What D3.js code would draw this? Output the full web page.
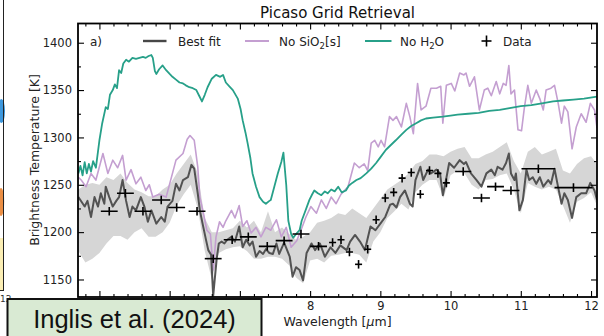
<!DOCTYPE html>
<html>
<head>
<meta charset="utf-8">
<script src="https://cdn.jsdelivr.net/npm/d3@7"></script>
<style>
html, body { margin: 0; padding: 0; background: #fff; }
svg { display: block; }
</style>
</head>
<body>
<svg id="chart" width="604" height="336"></svg>
<script>
// ---- Axis limits and ticks ----
const xLimits = [4.695, 12.085];
const yLimits = [1131.5, 1420.3];
const xMajorTicks = [5, 6, 7, 8, 9, 10, 11, 12];
// labels for 5-7 sit under the citation box, so they are left blank
const xTickLabels = ["", "", "", "8", "9", "10", "11", "12"];
const yMajorTicks = [1150, 1200, 1250, 1300, 1350, 1400];
const yMinorTicks = [1175, 1225, 1275, 1325, 1375];

// ---- Best-fit spectrum (wavelength in µm, brightness temperature in K) ----
const fitX = [
  4.70, 4.79, 4.83, 4.88, 4.93, 4.98, 5.02, 5.07, 5.09, 5.14,
  5.19, 5.24, 5.28, 5.33, 5.38, 5.43, 5.47, 5.52, 5.59, 5.64,
  5.69, 5.74, 5.81, 5.88, 5.93, 5.97, 6.04, 6.09, 6.14, 6.19,
  6.26, 6.31, 6.35, 6.40, 6.43, 6.48, 6.52, 6.55, 6.59, 6.62,
  6.67, 6.70, 6.74, 6.78, 6.82, 6.88, 6.93, 6.99, 7.04, 7.09,
  7.14, 7.18, 7.23, 7.28, 7.33, 7.37, 7.42, 7.47, 7.52, 7.56,
  7.63, 7.71, 7.75, 7.80, 7.85, 7.90, 7.95, 8.02, 8.07, 8.14,
  8.21, 8.29, 8.36, 8.43, 8.52, 8.57, 8.64, 8.71, 8.78, 8.86,
  8.93, 9.00, 9.07, 9.14, 9.18, 9.23, 9.28, 9.35, 9.42, 9.46,
  9.50, 9.57, 9.61, 9.68, 9.72, 9.80, 9.85, 9.89, 9.94, 9.98,
  10.05, 10.13, 10.19, 10.22, 10.29, 10.37, 10.44, 10.51, 10.58, 10.63,
  10.67, 10.74, 10.79, 10.83, 10.86, 10.91, 10.93, 10.98, 11.03, 11.08,
  11.12, 11.17, 11.22, 11.27, 11.32, 11.39, 11.43, 11.48, 11.53, 11.58,
  11.62, 11.67, 11.73, 11.79, 11.86, 11.93, 11.99, 12.05, 12.085
];
const fitT = [
  1237, 1227, 1233, 1216, 1237, 1227, 1241, 1230, 1248, 1237,
  1227, 1233, 1237, 1255, 1233, 1216, 1227, 1223, 1237, 1227,
  1211, 1223, 1209, 1216, 1211, 1227, 1233, 1251, 1244, 1255,
  1258, 1271, 1267, 1241, 1223, 1205, 1191, 1181, 1176, 1133,
  1172, 1188, 1190, 1188, 1192, 1195, 1190, 1206, 1184, 1192,
  1186, 1190, 1174, 1180, 1177, 1182, 1178, 1177, 1188, 1177,
  1189, 1174, 1153, 1163, 1160, 1149, 1178, 1188, 1181, 1188,
  1174, 1184, 1178, 1186, 1181, 1190, 1197, 1190, 1181, 1206,
  1202, 1209, 1216, 1229, 1230, 1226, 1237, 1244, 1230, 1227,
  1255, 1269, 1255, 1266, 1262, 1266, 1262, 1239, 1257, 1273,
  1268, 1276, 1272, 1274, 1262, 1255, 1248, 1262, 1266, 1260,
  1269, 1266, 1273, 1283, 1262, 1255, 1262, 1223, 1234, 1266,
  1255, 1258, 1251, 1258, 1248, 1255, 1251, 1267, 1248, 1230,
  1241, 1234, 1215, 1237, 1241, 1241, 1252, 1244, 1234
];

// ---- Best-fit uncertainty envelope ----
const bandX = [
  4.70, 4.80, 4.90, 5.00, 5.10, 5.20, 5.30, 5.40, 5.50, 5.60,
  5.70, 5.80, 5.90, 6.00, 6.10, 6.20, 6.30, 6.40, 6.50, 6.60,
  6.70, 6.80, 6.90, 7.00, 7.10, 7.20, 7.30, 7.40, 7.50, 7.60,
  7.70, 7.80, 7.90, 8.00, 8.10, 8.20, 8.30, 8.40, 8.50, 8.60,
  8.70, 8.80, 8.90, 9.00, 9.10, 9.20, 9.30, 9.40, 9.50, 9.60,
  9.70, 9.80, 9.90, 10.00, 10.10, 10.20, 10.30, 10.40, 10.50, 10.60,
  10.70, 10.80, 10.90, 11.00, 11.10, 11.20, 11.30, 11.40, 11.50, 11.60,
  11.70, 11.80, 11.90, 12.00, 12.085
];
const bandLow = [
  1180, 1168, 1172, 1178, 1188, 1196, 1196, 1192, 1200, 1204,
  1195, 1195, 1200, 1210, 1228, 1240, 1250, 1225, 1180, 1150,
  1178, 1182, 1184, 1185, 1180, 1172, 1172, 1174, 1174, 1172,
  1165, 1152, 1146, 1170, 1172, 1168, 1175, 1176, 1178, 1178,
  1176, 1168, 1190, 1200, 1215, 1222, 1230, 1224, 1242, 1250,
  1255, 1255, 1236, 1260, 1265, 1262, 1250, 1245, 1255, 1256,
  1260, 1262, 1245, 1220, 1252, 1248, 1245, 1248, 1245, 1228,
  1210, 1232, 1236, 1242, 1228
];
const bandHigh = [
  1245, 1250, 1252, 1250, 1258, 1255, 1262, 1252, 1245, 1242,
  1238, 1238, 1245, 1250, 1262, 1272, 1282, 1262, 1215, 1200,
  1200, 1202, 1204, 1212, 1205, 1212, 1200, 1222, 1200, 1205,
  1198, 1192, 1195, 1200, 1210, 1212, 1215, 1220, 1218, 1225,
  1220, 1215, 1225, 1235, 1245, 1250, 1255, 1262, 1272, 1275,
  1282, 1282, 1280, 1285, 1288, 1290, 1278, 1278, 1282, 1285,
  1290, 1295, 1275, 1262, 1285, 1290, 1282, 1285, 1288, 1265,
  1262, 1272, 1278, 1280, 1272
];

// ---- Model without SiO2 clouds ----
const noSio2X = [
  4.70, 4.74, 4.81, 4.88, 4.95, 5.05, 5.12, 5.19, 5.26, 5.33,
  5.38, 5.45, 5.52, 5.59, 5.66, 5.71, 5.76, 5.85, 5.95, 6.04,
  6.09, 6.19, 6.25, 6.29, 6.35, 6.40, 6.43, 6.48, 6.53, 6.58,
  6.62, 6.66, 6.71, 6.76, 6.80, 6.88, 6.93, 6.99, 7.04, 7.10,
  7.16, 7.23, 7.30, 7.37, 7.44, 7.52, 7.59, 7.66, 7.73, 7.81,
  7.87, 7.94, 8.01, 8.09, 8.16, 8.23, 8.30, 8.37, 8.44, 8.54,
  8.63, 8.70, 8.77, 8.82, 8.87, 8.92, 8.97, 9.01, 9.06, 9.13,
  9.18, 9.23, 9.30, 9.37, 9.42, 9.47, 9.53, 9.58, 9.65, 9.72,
  9.80, 9.86, 9.89, 9.94, 10.01, 10.06, 10.13, 10.19, 10.22, 10.27,
  10.34, 10.41, 10.48, 10.53, 10.58, 10.65, 10.70, 10.75, 10.79, 10.83,
  10.86, 10.91, 10.96, 11.01, 11.05, 11.10, 11.15, 11.22, 11.27, 11.32,
  11.36, 11.43, 11.48, 11.53, 11.58, 11.62, 11.67, 11.73, 11.79, 11.86,
  11.93, 11.99, 12.05, 12.085
];
const noSio2T = [
  1258, 1255, 1248, 1262, 1255, 1283, 1262, 1276, 1268, 1281,
  1255, 1266, 1251, 1258, 1244, 1250, 1237, 1240, 1237, 1262,
  1276, 1283, 1298, 1302, 1297, 1269, 1237, 1220, 1202, 1198,
  1160, 1195, 1211, 1205, 1212, 1223, 1215, 1228, 1206, 1212,
  1199, 1205, 1195, 1205, 1202, 1213, 1195, 1205, 1184, 1191,
  1202, 1216, 1227, 1220, 1234, 1225, 1237, 1230, 1240, 1248,
  1273, 1268, 1272, 1265, 1294, 1297, 1290, 1297, 1290, 1322,
  1318, 1322, 1311, 1336, 1322, 1304, 1357, 1329, 1333, 1352,
  1352, 1354, 1315, 1355, 1357, 1349, 1368, 1366, 1368, 1354,
  1364, 1329, 1350, 1352, 1344, 1359, 1346, 1357, 1355, 1376,
  1346, 1350, 1308, 1307, 1331, 1355, 1336, 1350, 1341, 1329,
  1350, 1352, 1355, 1337, 1315, 1333, 1327, 1288, 1311, 1325,
  1316, 1336, 1329, 1310
];

// ---- Model without H2O ----
const noH2oX = [
  4.70, 4.73, 4.76, 4.79, 4.82, 4.85, 4.88, 4.91, 4.95, 5.00,
  5.04, 5.09, 5.12, 5.15, 5.19, 5.22, 5.25, 5.28, 5.31, 5.34,
  5.38, 5.42, 5.47, 5.52, 5.57, 5.62, 5.66, 5.70, 5.74, 5.76,
  5.79, 5.81, 5.85, 5.90, 5.95, 6.00, 6.04, 6.09, 6.14, 6.19,
  6.23, 6.28, 6.33, 6.38, 6.42, 6.46, 6.50, 6.54, 6.60, 6.66,
  6.72, 6.76, 6.80, 6.85, 6.90, 6.97, 7.01, 7.04, 7.08, 7.11,
  7.15, 7.18, 7.23, 7.28, 7.33, 7.37, 7.42, 7.44, 7.49, 7.54,
  7.59, 7.62, 7.66, 7.69, 7.73, 7.76, 7.80, 7.85, 7.88, 7.92,
  7.96, 7.99, 8.03, 8.06, 8.11, 8.16, 8.21, 8.25, 8.30, 8.35,
  8.40, 8.45, 8.51, 8.55, 8.60, 8.66, 8.72, 8.80, 8.87, 8.94,
  9.01, 9.08, 9.15, 9.22, 9.30, 9.37, 9.44, 9.51, 9.58, 9.65,
  9.75, 9.89, 10.00, 10.10, 10.25, 10.40, 10.55, 10.70, 10.84, 11.00,
  11.15, 11.30, 11.46, 11.60, 11.75, 11.90, 12.085
];
const noH2oT = [
  1262, 1270, 1260, 1274, 1262, 1272, 1264, 1275, 1268, 1297,
  1315, 1332, 1330, 1345, 1350, 1356, 1352, 1371, 1368, 1378,
  1382, 1380, 1384, 1383, 1384, 1385, 1384, 1386, 1387, 1384,
  1370, 1367, 1372, 1376, 1371, 1367, 1364, 1361, 1358, 1357,
  1355, 1353, 1352, 1350, 1344, 1338, 1345, 1353, 1362, 1366,
  1364, 1366, 1358, 1354, 1350, 1341, 1330, 1318, 1305, 1294,
  1278, 1262, 1248, 1237, 1232, 1230, 1233, 1234, 1248, 1262,
  1274, 1284, 1250, 1212, 1198, 1194, 1198, 1202, 1212, 1220,
  1228, 1234, 1240, 1244, 1241, 1239, 1243, 1241, 1245, 1243,
  1248, 1242, 1244, 1249, 1252, 1255, 1257, 1262, 1267, 1273,
  1280, 1287, 1292, 1297, 1303, 1308, 1312, 1315, 1318, 1320,
  1321, 1322, 1323, 1324, 1325, 1326, 1328, 1329, 1331, 1333,
  1334, 1336, 1338, 1339, 1340, 1341, 1343
];

// ---- Observed spectrum (bin centre, half-width, temperature, error) ----
const dataX = [
  5.14, 5.37, 5.62, 5.88, 6.10, 6.39, 6.62, 6.89, 7.12, 7.39,
  7.63, 7.87, 8.12, 8.32, 8.44, 8.56, 8.69, 8.82, 8.94, 9.07,
  9.19, 9.31, 9.44, 9.57, 9.70, 9.82, 9.94, 10.18, 10.44, 10.64,
  10.86, 11.25, 11.75
];
const dataXErr = [
  0.12, 0.12, 0.12, 0.13, 0.12, 0.12, 0.12, 0.12, 0.12, 0.12,
  0.12, 0.12, 0.12, 0.05, 0.05, 0.05, 0.05, 0.05, 0.05, 0.05,
  0.05, 0.05, 0.05, 0.05, 0.05, 0.05, 0.05, 0.115, 0.12, 0.12,
  0.12, 0.24, 0.27
];
const dataT = [
  1222, 1241, 1222, 1234, 1226, 1222, 1172, 1192, 1195, 1185,
  1191, 1198, 1185, 1189, 1192, 1179, 1166, 1182, 1213, 1236,
  1242, 1257, 1263, 1240, 1265, 1262, 1252, 1264, 1236, 1248,
  1244, 1267, 1247
];
const dataTErr = 4.5;

// ---- Layout ----
const svg = d3.select("#chart");
const box = { left: 78, top: 23.5, right: 597, bottom: 297 };
const x = d3.scaleLinear().domain(xLimits).range([box.left, box.right]);
const y = d3.scaleLinear().domain(yLimits).range([box.bottom, box.top]);
const font = "'DejaVu Sans', 'Noto Sans', sans-serif";

const colFit = "#474747";
const colNoSio2 = "#c49fd1";
const colNoH2o = "#27a089";
const colBand = "#d6d6d6";

svg.append("rect").attr("width", 604).attr("height", 336).attr("fill", "#fff");

// Edge of the adjacent panel on the far left
const edge = svg.append("g");
edge.append("rect").attr("x", 0).attr("y", 238).attr("width", 3.5).attr("height", 52)
  .attr("fill", "#fbeeb4");
edge.append("ellipse").attr("cx", 1.5).attr("cy", 111).attr("rx", 3.5).attr("ry", 12)
  .attr("fill", "#1b86d8").attr("opacity", 0.85);
edge.append("ellipse").attr("cx", 1).attr("cy", 202).attr("rx", 3.2).attr("ry", 14)
  .attr("fill", "#e87a22").attr("opacity", 0.85);
edge.append("line").attr("x1", 3.5).attr("x2", 3.5).attr("y1", 0).attr("y2", 291)
  .attr("stroke", "#222").attr("stroke-width", 1);
edge.append("line").attr("x1", 0).attr("x2", 3.5).attr("y1", 290.5).attr("y2", 290.5)
  .attr("stroke", "#222").attr("stroke-width", 1);
edge.append("text").attr("x", 0).attr("y", 302).attr("text-anchor", "start")
  .attr("font-family", font).attr("font-size", "9px").attr("fill", "#333").text("12");

// Title
svg.append("text").attr("x", (box.left + box.right) / 2).attr("y", 18)
  .attr("text-anchor", "middle").attr("font-family", font).attr("font-size", "15px")
  .attr("fill", "#111").text("Picaso Grid Retrieval");

// Clip to the axes area
svg.append("defs").append("clipPath").attr("id", "plotClip")
  .append("rect").attr("x", box.left).attr("y", box.top)
  .attr("width", box.right - box.left).attr("height", box.bottom - box.top);
const plot = svg.append("g").attr("clip-path", "url(#plotClip)");

// Uncertainty envelope
const area = d3.area()
  .x(i => x(bandX[i])).y0(i => y(bandLow[i])).y1(i => y(bandHigh[i]));
plot.append("path").attr("d", area(d3.range(bandX.length)))
  .attr("fill", colBand).attr("stroke", "none");

function seriesPath(xs, ys) {
  return d3.line().x(i => x(xs[i])).y(i => y(ys[i]))(d3.range(xs.length));
}
plot.append("path").attr("d", seriesPath(noSio2X, noSio2T))
  .attr("fill", "none").attr("stroke", colNoSio2).attr("stroke-width", 1.6)
  .attr("stroke-linejoin", "round");
plot.append("path").attr("d", seriesPath(noH2oX, noH2oT))
  .attr("fill", "none").attr("stroke", colNoH2o).attr("stroke-width", 1.8)
  .attr("stroke-linejoin", "round");
plot.append("path").attr("d", seriesPath(fitX, fitT))
  .attr("fill", "none").attr("stroke", colFit).attr("stroke-width", 2)
  .attr("stroke-linejoin", "round").attr("opacity", 0.92);

// Data with error bars
const crosses = plot.append("g").attr("stroke", "#000").attr("stroke-width", 1.6);
d3.range(dataX.length).forEach(i => {
  crosses.append("line")
    .attr("x1", x(dataX[i] - dataXErr[i])).attr("x2", x(dataX[i] + dataXErr[i]))
    .attr("y1", y(dataT[i])).attr("y2", y(dataT[i]));
  crosses.append("line")
    .attr("x1", x(dataX[i])).attr("x2", x(dataX[i]))
    .attr("y1", y(dataT[i] - dataTErr)).attr("y2", y(dataT[i] + dataTErr));
});

// ---- Axes (ticks pointing inward on all four sides) ----
const xMinorTicks = d3.range(48, 121, 2).map(v => v / 10).filter(v => v % 1 !== 0);
function styleAxis(g) {
  g.select(".domain").remove();
  g.selectAll(".tick line").attr("stroke", "#000").attr("stroke-width", 1.1);
  g.selectAll("text").attr("font-family", font).attr("font-size", "11.5px").attr("fill", "#222");
}
svg.append("g").attr("transform", `translate(0,${box.bottom})`)
  .call(d3.axisBottom(x).tickValues(xMajorTicks).tickSize(-6).tickPadding(5)
    .tickFormat((d, i) => xTickLabels[i]))
  .call(styleAxis);
svg.append("g").attr("transform", `translate(0,${box.bottom})`)
  .call(d3.axisBottom(x).tickValues(xMinorTicks).tickSize(-3).tickFormat(""))
  .call(styleAxis);
svg.append("g").attr("transform", `translate(0,${box.top})`)
  .call(d3.axisTop(x).tickValues(xMajorTicks).tickSize(-6).tickFormat(""))
  .call(styleAxis);
svg.append("g").attr("transform", `translate(0,${box.top})`)
  .call(d3.axisTop(x).tickValues(xMinorTicks).tickSize(-3).tickFormat(""))
  .call(styleAxis);
svg.append("g").attr("transform", `translate(${box.left},0)`)
  .call(d3.axisLeft(y).tickValues(yMajorTicks).tickSize(-6).tickPadding(6).tickFormat(d3.format("d")))
  .call(styleAxis);
svg.append("g").attr("transform", `translate(${box.left},0)`)
  .call(d3.axisLeft(y).tickValues(yMinorTicks).tickSize(-3).tickFormat(""))
  .call(styleAxis);
svg.append("g").attr("transform", `translate(${box.right},0)`)
  .call(d3.axisRight(y).tickValues(yMajorTicks).tickSize(-6).tickFormat(""))
  .call(styleAxis);
svg.append("g").attr("transform", `translate(${box.right},0)`)
  .call(d3.axisRight(y).tickValues(yMinorTicks).tickSize(-3).tickFormat(""))
  .call(styleAxis);

svg.append("rect").attr("x", box.left).attr("y", box.top)
  .attr("width", box.right - box.left).attr("height", box.bottom - box.top)
  .attr("fill", "none").attr("stroke", "#000").attr("stroke-width", 1.8);

// Axis labels
svg.append("text").attr("transform", "translate(38.5,160) rotate(-90)")
  .attr("text-anchor", "middle").attr("font-family", font).attr("font-size", "12.5px")
  .attr("fill", "#222").text("Brightness Temperature [K]");
const xl = svg.append("text").attr("x", (box.left + box.right) / 2).attr("y", 326)
  .attr("text-anchor", "middle").attr("font-family", font).attr("font-size", "12.5px")
  .attr("fill", "#222");
xl.append("tspan").text("Wavelength [");
xl.append("tspan").attr("font-style", "italic").text("µ");
xl.append("tspan").text("m]");

// ---- Legend ----
const leg = svg.append("g").attr("font-family", font).attr("font-size", "12px").attr("fill", "#222");
const legY = 41;
leg.append("text").attr("x", 90).attr("y", legY + 4.5).text("a)");
leg.append("line").attr("x1", 143).attr("x2", 166.5).attr("y1", legY).attr("y2", legY)
  .attr("stroke", colFit).attr("stroke-width", 2.4);
leg.append("text").attr("x", 178).attr("y", legY + 4.5).text("Best fit");
leg.append("line").attr("x1", 245).attr("x2", 269).attr("y1", legY).attr("y2", legY)
  .attr("stroke", colNoSio2).attr("stroke-width", 2);
const t2 = leg.append("text").attr("x", 279).attr("y", legY + 4.5);
t2.append("tspan").text("No SiO");
t2.append("tspan").attr("font-size", "8.5px").attr("dy", 3).text("2");
t2.append("tspan").attr("dy", -3).text("[s]");
leg.append("line").attr("x1", 365).attr("x2", 391.5).attr("y1", legY).attr("y2", legY)
  .attr("stroke", colNoH2o).attr("stroke-width", 2);
const t3 = leg.append("text").attr("x", 400).attr("y", legY + 4.5);
t3.append("tspan").text("No H");
t3.append("tspan").attr("font-size", "8.5px").attr("dy", 3).text("2");
t3.append("tspan").attr("dy", -3).text("O");
leg.append("line").attr("x1", 481.5).attr("x2", 491.5).attr("y1", legY).attr("y2", legY)
  .attr("stroke", "#000").attr("stroke-width", 1.6);
leg.append("line").attr("x1", 486.5).attr("x2", 486.5).attr("y1", legY - 5.5).attr("y2", legY + 5.5)
  .attr("stroke", "#000").attr("stroke-width", 1.6);
leg.append("text").attr("x", 503).attr("y", legY + 4.5).text("Data");

// ---- Citation label ----
svg.append("rect").attr("x", 7.5).attr("y", 299).attr("width", 254).attr("height", 40)
  .attr("fill", "#d9ead3").attr("stroke", "#111").attr("stroke-width", 2);
svg.append("text").attr("x", 134.5).attr("y", 327.5).attr("text-anchor", "middle")
  .attr("font-family", "'Liberation Sans', Arial, sans-serif").attr("font-size", "25.5px")
  .attr("fill", "#111").text("Inglis et al. (2024)");
</script>
</body>
</html>
